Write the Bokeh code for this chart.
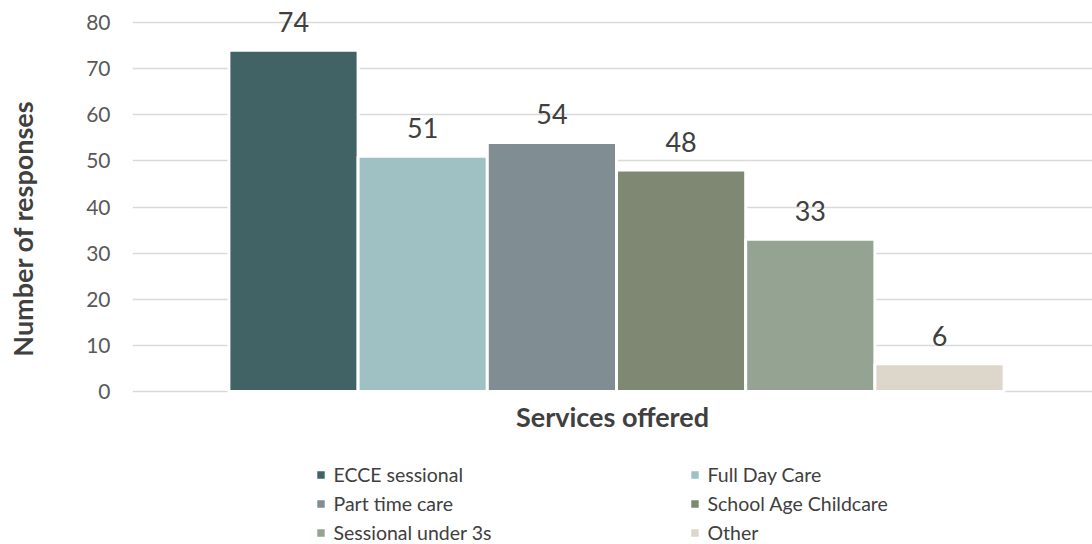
import numpy as np
from bokeh.plotting import figure
from bokeh.layouts import column
from bokeh.models import (ColumnDataSource, Range1d, FixedTicker, LabelSet, Label,
                          Legend, LegendItem)
from bokeh.core.properties import value
from bokeh.embed import file_html
from bokeh.resources import INLINE

# ---- data ----
categories = ["ECCE sessional", "Full Day Care", "Part time care",
              "School Age Childcare", "Sessional under 3s", "Other"]
responses = [74, 51, 54, 48, 33, 6]
y_ticks = [0, 10, 20, 30, 40, 50, 60, 70, 80]
x_title = "Services offered"
y_title = "Number of responses"
palette = ["#416366", "#9fc1c4", "#808e93", "#7e8872", "#95a393", "#ddd6cb"]

FONT = "Lato"
x_pos = np.arange(len(categories))

src = ColumnDataSource(dict(
    x=x_pos, top=responses, cat=categories, color=palette,
    lbl=[str(v) for v in responses],
))

W = 1092
H_MAIN, H_LEG = 452, 92
border_left, border_top = 132, 4
zero_y = 391                      # screen y of the zero line
px_per_unit = 369 / 80.0
y_end = (zero_y - border_top) / px_per_unit
y_start = -(H_MAIN - zero_y) / px_per_unit
pitch = 129.2
x_start = -(293 - border_left) / pitch
x_end = x_start + (W - border_left) / pitch

p = figure(width=W, height=H_MAIN, output_backend="svg", toolbar_location=None,
           x_range=Range1d(x_start, x_end), y_range=Range1d(y_start, y_end),
           x_axis_location=None,
           min_border_left=border_left, min_border_right=0,
           min_border_top=border_top, min_border_bottom=0)
p.outline_line_color = None
p.background_fill_color = "white"

r = p.vbar(x="x", top="top", bottom=0, width=1.0, source=src,
           fill_color="color", line_color="white", line_width=3)

labels = LabelSet(x="x", y="top", text="lbl", source=src, y_offset=18,
                  text_align="center", text_baseline="alphabetic",
                  text_font=value(FONT), text_font_size="27px", text_color="#404040")
p.add_layout(labels)

# y axis
p.yaxis.ticker = FixedTicker(ticks=y_ticks)
p.yaxis.axis_line_color = None
p.yaxis.major_tick_line_color = None
p.yaxis.minor_tick_line_color = None
p.yaxis.major_tick_out = 0
p.yaxis.minor_tick_out = 0
p.yaxis.major_label_standoff = 22
p.yaxis.major_label_text_font = FONT
p.yaxis.major_label_text_font_size = "21px"
p.yaxis.major_label_text_color = "#595959"
p.yaxis.axis_label = y_title
p.yaxis.axis_label_text_font = FONT
p.yaxis.axis_label_text_font_style = "bold"
p.yaxis.axis_label_text_font_size = "27px"
p.yaxis.axis_label_text_color = "#404040"
p.yaxis.axis_label_standoff = 44

xlab = Label(x=(x_start + x_end) / 2, y=0, y_offset=-25, text=x_title,
             text_align="center", text_baseline="alphabetic",
             text_font=FONT, text_font_style="bold", text_font_size="27px",
             text_color="#404040")
p.add_layout(xlab)

p.xgrid.grid_line_color = None
p.ygrid.ticker = FixedTicker(ticks=y_ticks)
p.ygrid.grid_line_color = "#d9d9d9"
p.ygrid.grid_line_width = 1.5

# ---- legend strip ----
p2 = figure(width=W, height=H_LEG, output_backend="svg", toolbar_location=None,
            x_range=Range1d(0, 1), y_range=Range1d(1000, 1001),
            x_axis_location=None, y_axis_location=None,
            min_border_left=0, min_border_right=0,
            min_border_top=0, min_border_bottom=0)
p2.outline_line_color = None
p2.xgrid.visible = False
p2.ygrid.visible = False
r2 = p2.vbar(x="x", top="top", bottom=0, width=1.0, source=src,
             fill_color="color", line_color="white", line_width=3)

items = [LegendItem(label=c, renderers=[r2], index=i) for i, c in enumerate(categories)]
legend = Legend(items=items, orientation="horizontal", ncols=2,
                location=(181.5, -2.5),
                glyph_width=13, glyph_height=13, label_standoff=7,
                label_width=354, label_height=29, spacing=0,
                padding=0, margin=0, border_line_color=None,
                background_fill_alpha=0,
                label_text_font=FONT, label_text_font_size="19.5px",
                label_text_color="#404040")
p2.add_layout(legend, "center")

layout = column(p, p2, spacing=0)
open("out.html", "w").write(file_html(layout, INLINE))
